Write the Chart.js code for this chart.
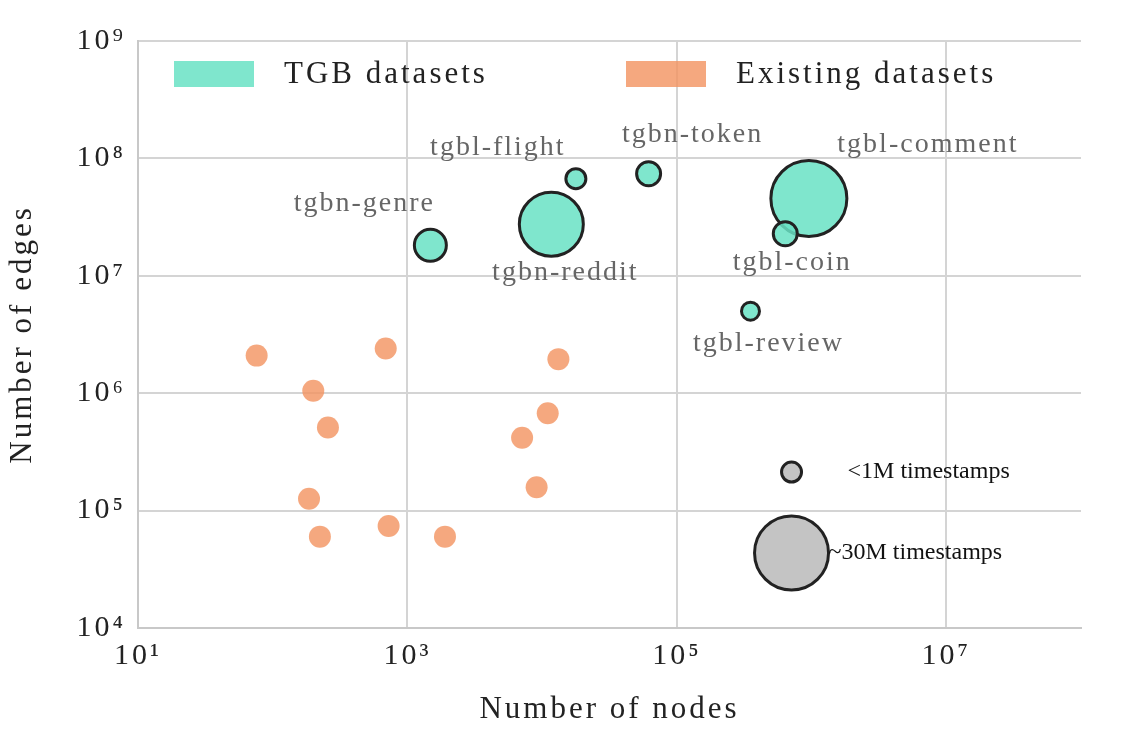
<!DOCTYPE html>
<html><head><meta charset="utf-8">
<script src="https://cdn.jsdelivr.net/npm/chart.js@4"></script>
<style>html,body{margin:0;background:#fff}#c{width:1122px;height:732px}</style>
</head><body><canvas id="c" width="1122" height="732"></canvas>
<script>
// TGB datasets: nodes, edges, bubble radius
const tgbNames = ['tgbn-genre', 'tgbn-reddit', 'tgbl-flight', 'tgbn-token', 'tgbl-comment', 'tgbl-coin', 'tgbl-review'];
const tgbNodes = [1480, 11700, 17800, 61700, 955000, 638000, 352000];
const tgbEdges = [18200000, 27500000, 67200000, 74000000, 45500000, 22800000, 5000000];
const tgbRadius = [16, 32, 10, 12, 38, 12, 9];
// label offsets from point (px)
const labelDx = [-66, 14, -78, 44, 119, 7, 18];
const labelDy = [-42, 48, -31, -39, -54, 29, 32];

// existing datasets
const oldNodes = [76, 200, 257, 186, 224, 690, 725, 1900, 13200, 11000, 7100, 9100];
const oldEdges = [2090000, 1050000, 510000, 126000, 60000, 2400000, 74000, 60000, 1950000, 676000, 417000, 158000];

// size legend
const sizeLegend = ['<1M timestamps', '~30M timestamps'];
const sizeRadius = [10, 37];
const sizeY = [213000, 43600];
const sizeX = 710000;

const sup = { '1': '¹', '3': '³', '4': '⁴', '5': '⁵', '6': '⁶', '7': '⁷', '8': '⁸', '9': '⁹' };
const FONT = '"Liberation Serif", "DejaVu Serif", serif';

const teal = 'rgba(104,226,196,0.85)';
const orange = 'rgba(243,146,95,0.8)';

const spacing = {
  id: 'spacing',
  beforeDraw(chart) { chart.ctx.letterSpacing = '3px'; }
};

const overlay = {
  id: 'overlay',
  afterDatasetsDraw(chart) {
    const ctx = chart.ctx;
    const xs = chart.scales.x, ys = chart.scales.y;
    ctx.save();
    ctx.font = '28px ' + FONT;
    ctx.letterSpacing = '2px';
    ctx.fillStyle = '#666';
    ctx.textAlign = 'center';
    ctx.textBaseline = 'middle';
    tgbNames.forEach((n, i) => {
      ctx.fillText(n, xs.getPixelForValue(tgbNodes[i]) + labelDx[i], ys.getPixelForValue(tgbEdges[i]) + labelDy[i]);
    });
    ctx.letterSpacing = '0px';
    ctx.fillStyle = '#111';
    ctx.font = '24px ' + FONT;
    ctx.textAlign = 'left';
    sizeLegend.forEach((t, i) => {
      const px = xs.getPixelForValue(sizeX), py = ys.getPixelForValue(sizeY[i]);
      ctx.fillText(t, px + (i ? 37 : 56), py);
    });
    // legend
    ctx.font = '31px ' + FONT;
    ctx.letterSpacing = '3px';
    const items = [['TGB datasets', teal, 174], ['Existing datasets', orange, 626]];
    items.forEach(([t, c, x]) => {
      ctx.fillStyle = c;
      ctx.fillRect(x, 61, 80, 26);
      ctx.fillStyle = '#222';
      ctx.fillText(t, x + 110, 75);
    });
    ctx.restore();
    ctx.letterSpacing = '3px';
  }
};

new Chart(document.getElementById('c'), {
  type: 'bubble',
  data: {
    datasets: [
      {
        data: oldNodes.map((x, i) => ({ x, y: oldEdges[i], r: 11 })),
        backgroundColor: orange, borderColor: orange, borderWidth: 0
      },
      {
        data: tgbNodes.map((x, i) => ({ x, y: tgbEdges[i], r: tgbRadius[i] })),
        backgroundColor: teal, borderColor: '#222', borderWidth: 3
      },
      {
        data: sizeRadius.map((r, i) => ({ x: sizeX, y: sizeY[i], r })),
        backgroundColor: '#c4c4c4', borderColor: '#222', borderWidth: 3
      }
    ]
  },
  options: {
    responsive: false,
    animation: false,
    layout: { padding: { top: 4, right: -22 } },
    plugins: { legend: { display: false }, tooltip: { enabled: false } },
    scales: {
      x: {
        type: 'logarithmic', min: 10, max: 1e8,
        afterFit: (s) => { s.height = 104; },
        afterBuildTicks: (s) => { s.ticks = [1e1, 1e2, 1e3, 1e4, 1e5, 1e6, 1e7, 1e8].map((v) => ({ value: v })); },
        grid: { color: (c) => [1e1, 1e3, 1e5, 1e7].includes(c.tick.value) ? '#d4d4d4' : 'rgba(0,0,0,0)', lineWidth: 2, drawTicks: false },
        border: { color: '#c8c8c8', width: 2 },
        ticks: {
          color: '#222', font: { family: FONT, size: 30 }, padding: 10, autoSkip: false, maxRotation: 0,
          callback: (v) => { const e = Math.round(Math.log10(v)); return e % 2 ? '10' + sup[e] : ''; }
        },
        title: { display: true, text: 'Number of nodes', color: '#222', font: { family: FONT, size: 31 }, padding: { top: 14 } }
      },
      y: {
        type: 'logarithmic', min: 1e4, max: 1e9,
        afterFit: (s) => { s.width = 138; },
        afterBuildTicks: (s) => { s.ticks = [1e4, 1e5, 1e6, 1e7, 1e8, 1e9].map((v) => ({ value: v })); },
        grid: { color: '#d4d4d4', lineWidth: 2, drawTicks: false },
        border: { color: '#c8c8c8', width: 2 },
        ticks: {
          color: '#222', font: { family: FONT, size: 30 }, padding: 12,
          callback: (v) => '10' + sup[Math.round(Math.log10(v))]
        },
        title: { display: true, text: 'Number of edges', color: '#222', font: { family: FONT, size: 31 } }
      }
    }
  },
  plugins: [spacing, overlay]
});
</script></body></html>
